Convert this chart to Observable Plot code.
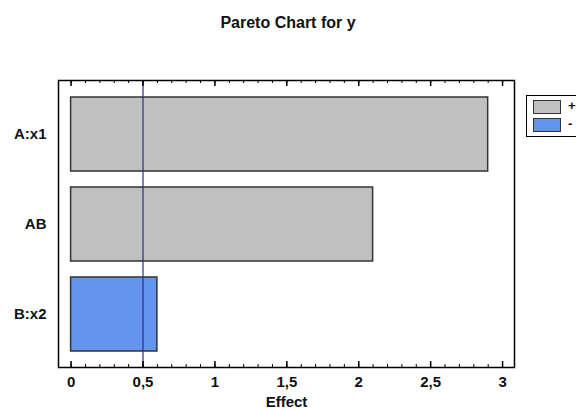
<!DOCTYPE html>
<html><head><meta charset="utf-8">
<script src="https://cdn.jsdelivr.net/npm/d3@7"></script>
<script src="https://cdn.jsdelivr.net/npm/@observablehq/plot@0.6"></script>
<style>
body{margin:0;background:#fff;font-family:"Liberation Sans",Arial,sans-serif;}
#wrap{position:relative;width:576px;height:410px;overflow:hidden;background:#fff;}
#title{position:absolute;left:0;top:14px;width:576px;text-align:center;font-weight:bold;font-size:16px;color:#111;}
#legend{position:absolute;left:526px;top:95px;width:70px;height:40px;border:1px solid #000;background:#fff;}
.sw{position:absolute;left:6px;width:26px;height:12px;border:1px solid #333;}
.lt{position:absolute;left:41px;font-weight:bold;font-size:13px;line-height:14px;color:#111;}
</style></head>
<body>
<div id="wrap">
<div id="title">Pareto Chart for y</div>
<div id="chart"></div>
<div id="legend"></div>
</div>
<script>
const categories = ["A:x1", "AB", "B:x2"];
const effects = [2.9, 2.1, 0.6];
const signs = ["+", "+", "-"];
const signColors = ["#c0c0c0", "#6495ed"];
const signDomain = ["+", "-"];
const xTicks = [0, 0.5, 1, 1.5, 2, 2.5, 3];
const xTickLabels = ["0", "0,5", "1", "1,5", "2", "2,5", "3"];
const minorTicks = d3.range(0, 31).map(i => i / 10);
const refLine = [0.5];

const data = categories.map((c, i) => ({term: c, effect: effects[i], sign: signs[i]}));
const innerH = 410 - 80 - 43;

const chart = Plot.plot({
  width: 576, height: 410,
  marginTop: 80, marginBottom: 43, marginLeft: 58, marginRight: 62,
  style: {fontFamily: "Liberation Sans, Arial, sans-serif", fontSize: "15px", fontWeight: "bold", color: "#111", background: "transparent"},
  x: {domain: [-0.0876, 3.083]},
  y: {domain: categories, paddingInner: 0.18, paddingOuter: 0.18},
  color: {domain: signDomain, range: signColors},
  marks: [
    Plot.barX(data, {x: "effect", y: "term", fill: "sign", stroke: "#333", strokeWidth: 1.5}),
    Plot.ruleX(refLine, {stroke: "#2a2a9a", strokeWidth: 1.2}),
    Plot.tickX(minorTicks, {x: d => d, insetTop: innerH - 3, stroke: "#000"}),
    Plot.tickX(xTicks, {x: d => d, insetTop: innerH - 6, stroke: "#000", strokeWidth: 1.5}),
    Plot.tickX(minorTicks, {x: d => d, insetBottom: innerH - 3, stroke: "#000"}),
    Plot.tickX(xTicks, {x: d => d, insetBottom: innerH - 6, stroke: "#000", strokeWidth: 1.5}),
    Plot.frame({stroke: "#000", strokeWidth: 1.5}),
    Plot.axisX(xTicks, {tickSize: 0, tickPadding: 9, tickFormat: d => xTickLabels[xTicks.indexOf(d)], label: "Effect", labelAnchor: "center", labelArrow: "none", labelOffset: 39}),
    Plot.axisY({tickSize: 0, tickPadding: 12, label: null})
  ]
});
document.getElementById("chart").appendChild(chart);

const legend = document.getElementById("legend");
signDomain.forEach((s, i) => {
  const sw = document.createElement("div");
  sw.className = "sw";
  sw.style.top = (4 + i * 18) + "px";
  sw.style.background = signColors[i];
  legend.appendChild(sw);
  const t = document.createElement("div");
  t.className = "lt";
  t.style.top = (3 + i * 18) + "px";
  t.textContent = s;
  legend.appendChild(t);
});
</script>
</body></html>
